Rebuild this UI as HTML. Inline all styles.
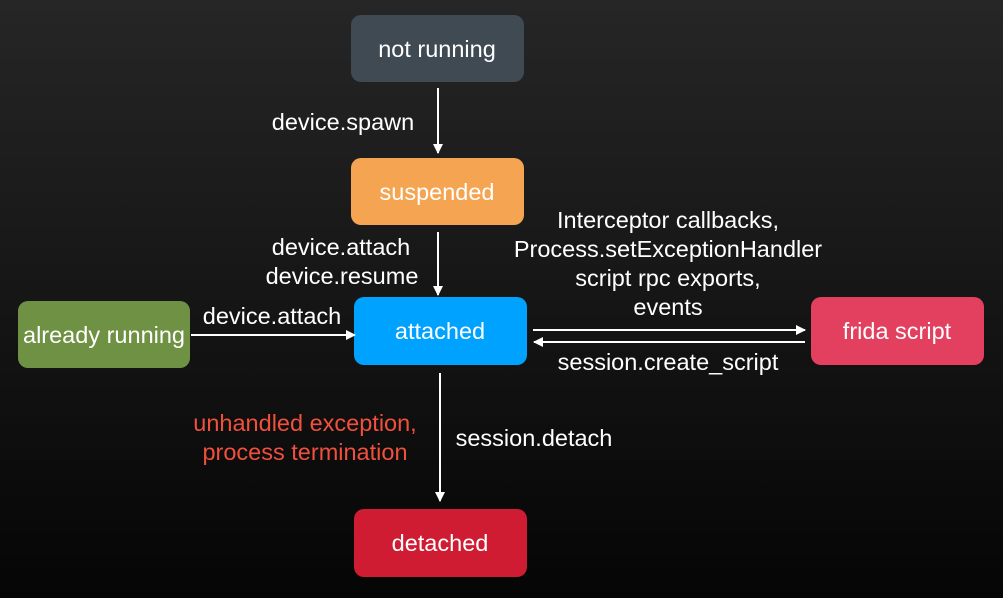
<!DOCTYPE html>
<html><head><meta charset="utf-8"><style>
html,body{margin:0;padding:0;width:1003px;height:598px;overflow:hidden;background:#000}
svg{display:block}
text{font-family:"Liberation Sans",sans-serif;font-size:23.5px;fill:#fff}
</style></head><body>
<svg width="1003" height="598" viewBox="0 0 1003 598">
<defs>
<linearGradient id="bg" x1="0" y1="0" x2="0" y2="1">
<stop offset="0" stop-color="#262626"/><stop offset="1" stop-color="#050505"/>
</linearGradient>
<marker id="a" markerWidth="10" markerHeight="10" refX="9" refY="5" orient="auto" markerUnits="userSpaceOnUse">
<path d="M0,0 L10,5 L0,10 z" fill="#fff"/></marker>
</defs>
<rect width="1003" height="598" fill="url(#bg)"/>
<g text-anchor="middle" dominant-baseline="central">
<rect x="351" y="15" width="173" height="67" rx="10" fill="#3f4a53"/><text x="437" y="49">not running</text>
<rect x="351" y="158" width="173" height="67" rx="10" fill="#f5a552"/><text x="437" y="192">suspended</text>
<rect x="354" y="297" width="173" height="68" rx="10" fill="#00a2ff"/><text x="440" y="331">attached</text>
<rect x="18" y="301" width="172" height="67" rx="10" fill="#6f9144"/><text x="104" y="335">already running</text>
<rect x="811" y="297" width="173" height="68" rx="10" fill="#e33f5e"/><text x="897" y="331">frida script</text>
<rect x="354" y="509" width="173" height="68" rx="10" fill="#d01c32"/><text x="440" y="543">detached</text>

<text x="343" y="122">device.spawn</text>
<text x="341" y="247">device.attach</text>
<text x="342" y="276">device.resume</text>
<text x="272" y="316">device.attach</text>
<text x="668" y="220">Interceptor callbacks,</text>
<text x="668" y="249">Process.setExceptionHandler</text>
<text x="668" y="278">script rpc exports,</text>
<text x="668" y="307">events</text>
<text x="668" y="362">session.create_script</text>
<text x="534" y="438">session.detach</text>
<text x="305" y="423" style="fill:#f0503c">unhandled exception,</text>
<text x="305" y="452" style="fill:#f0503c">process termination</text>
</g>
<g stroke="#fff" stroke-width="2" fill="none">
<line x1="438" y1="88" x2="438" y2="153" marker-end="url(#a)"/>
<line x1="438" y1="232" x2="438" y2="295" marker-end="url(#a)"/>
<line x1="191" y1="335" x2="355" y2="335" marker-end="url(#a)"/>
<line x1="533" y1="330" x2="805" y2="330" marker-end="url(#a)"/>
<line x1="805" y1="342" x2="534" y2="342" marker-end="url(#a)"/>
<line x1="440" y1="373" x2="440" y2="501" marker-end="url(#a)"/>
</g>
</svg>
</body></html>
